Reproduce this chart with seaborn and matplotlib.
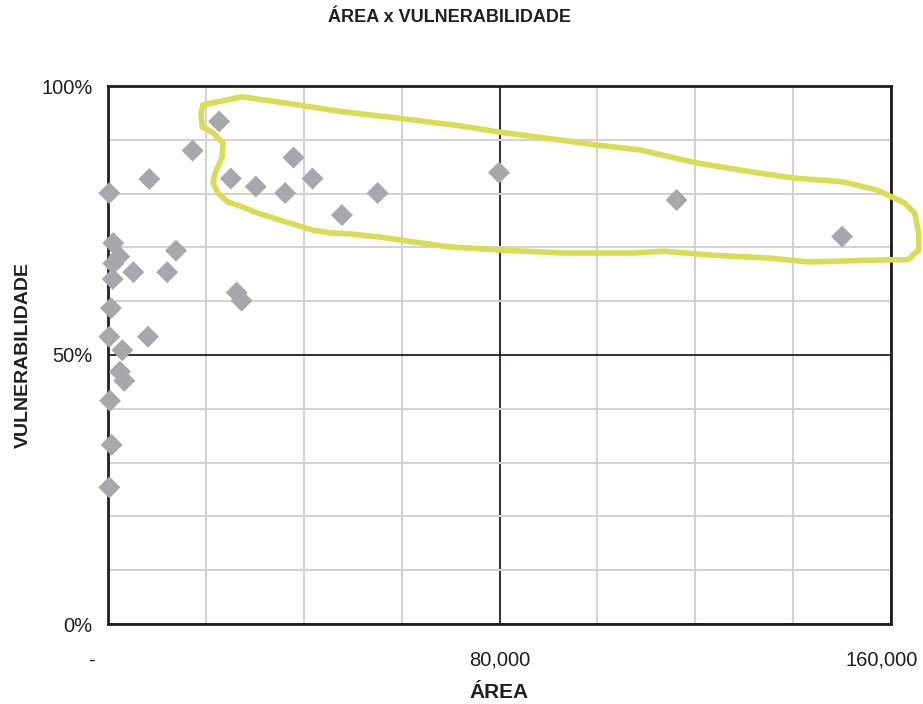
import matplotlib
matplotlib.use("Agg")
import matplotlib.pyplot as plt
import matplotlib.transforms as mtransforms
from matplotlib.ticker import MultipleLocator, FixedLocator
import seaborn as sns
import pandas as pd

# ---- data ----
area = [270, 1090, 2300, 1090, 960, 610, 270, 2920, 2450, 3330, 410, 750, 270,
        8450, 5180, 8180, 12100, 13900, 17300, 22700, 25100, 26300, 27300,
        30200, 36200, 37900, 41800, 47800, 55100, 79900, 116200, 150000]
vulnerabilidade = [80.1, 70.8, 68.3, 67.0, 64.1, 58.7, 53.4, 50.9, 46.9, 45.2, 41.5, 33.3, 25.4,
                   82.7, 65.4, 53.4, 65.4, 69.4, 88.0, 93.4, 82.8, 61.6, 60.1,
                   81.3, 80.1, 86.7, 82.8, 76.0, 80.1, 83.9, 78.8, 72.0]

x_ticks = [0, 80000, 160000]
x_tick_labels = ["-", "80,000", "160,000"]
y_ticks = [0, 50, 100]
y_tick_labels = ["0%", "50%", "100%"]

# hand-drawn highlight loop (data coordinates)
loop_x = [19430, 27400, 37220, 48060, 57670, 71980, 80160, 92430, 100200, 108800,
          120250, 133130, 140080, 150100, 157060, 162780, 164830, 165650, 165650,
          163400, 159920, 142950, 135380, 122700, 113500, 107770, 93050, 80160,
          69730, 62580, 55620, 49490, 45400, 41920, 37220, 30470, 26380, 24540,
          22500, 21470, 21880, 23310, 23510, 21470, 19220, 19020, 19430]
loop_y = [96.5, 98.0, 96.7, 95.2, 94.2, 92.6, 91.4, 89.96, 89.0, 88.1,
          85.7, 83.8, 82.9, 82.2, 80.7, 78.25, 76.4, 72.7, 69.5,
          67.7, 67.7, 67.3, 68.0, 68.6, 69.3, 68.96, 68.96, 69.5,
          70.1, 71.0, 71.9, 72.5, 72.7, 73.2, 74.5, 76.4, 77.9, 78.4,
          80.1, 82.0, 83.8, 86.8, 89.4, 91.3, 92.4, 95.0, 96.5]

df = pd.DataFrame({"area": area, "vuln": vulnerabilidade})

sns.set_theme(style="white")
plt.rcParams["font.family"] = ["Liberation Sans", "DejaVu Sans"]

fig = plt.figure(figsize=(9.23, 7.04), dpi=100)
ax = fig.add_axes([108 / 923, 1 - 624 / 704, (891 - 108) / 923, (624 - 86) / 704])

ax.set_xlim(0, 160000)
ax.set_ylim(0, 100)

# grid
ax.xaxis.set_major_locator(FixedLocator(x_ticks))
ax.yaxis.set_major_locator(FixedLocator(y_ticks))
ax.xaxis.set_minor_locator(MultipleLocator(20000))
ax.yaxis.set_minor_locator(MultipleLocator(10))
ax.grid(which="minor", color="#d3d3d3", lw=1.5, zorder=0)
ax.grid(which="major", color="#231f20", lw=1.3, zorder=0.5)
ax.set_axisbelow(True)

sns.scatterplot(data=df, x="area", y="vuln", marker="D", s=125, color="#a7a8ab",
                edgecolor="none", linewidth=0, ax=ax, zorder=3, legend=False,
                clip_on=False)

ax.plot(loop_x, loop_y, color="#d9dc55", lw=4.0, solid_joinstyle="round",
        solid_capstyle="round", clip_on=False, zorder=4)

ax.set_xticks(x_ticks)
ax.set_xticklabels(x_tick_labels)
ax.set_yticks(y_ticks)
ax.set_yticklabels(y_tick_labels)
ax.tick_params(axis="both", which="major", length=6, width=1.5, color="#231f20",
               labelsize=14.5, labelcolor="#231f20", direction="out")
ax.tick_params(axis="x", which="major", pad=13)
ax.tick_params(axis="y", which="major", pad=5)
ax.tick_params(which="minor", length=0)

# shift the first and last x labels as in the reference
xl = ax.get_xticklabels()
xl[0].set_transform(xl[0].get_transform() + mtransforms.ScaledTranslation(-17 / 100, 0, fig.dpi_scale_trans))
xl[2].set_transform(xl[2].get_transform() + mtransforms.ScaledTranslation(-9 / 100, 0, fig.dpi_scale_trans))

for side in ["left", "bottom", "right", "top"]:
    ax.spines[side].set_visible(True)
    ax.spines[side].set_color("#231f20")
    ax.spines[side].set_linewidth(2.0)

ax.set_xlabel("ÁREA", fontsize=15, fontweight="bold", color="#231f20", labelpad=10)
ax.set_ylabel("VULNERABILIDADE", fontsize=14, fontweight="bold", color="#231f20", labelpad=7)

fig.text(449 / 923, 1 - 18 / 704, "ÁREA x VULNERABILIDADE", ha="center", va="center",
         fontsize=13, fontweight="bold", color="#231f20")

fig.savefig("out.png", dpi=100, facecolor="white")
